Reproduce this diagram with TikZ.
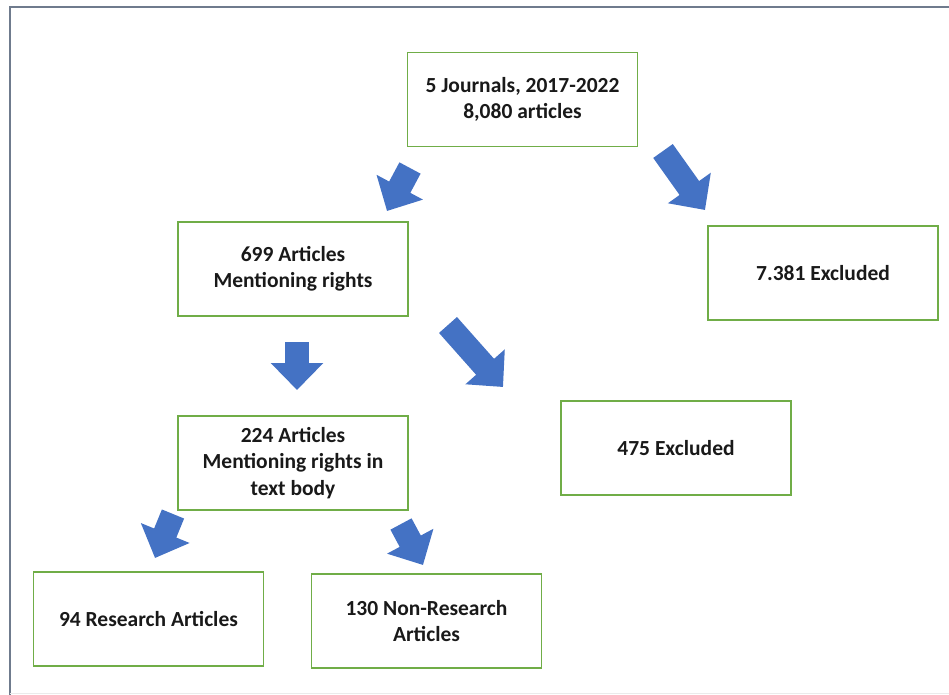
\documentclass[tikz,border=0pt]{standalone}
\usepackage{fontspec}
\setmainfont{Carlito}
\usetikzlibrary{arrows.meta}
\definecolor{boxgreen}{HTML}{70AD47}
\definecolor{arrowblue}{HTML}{4472C4}
\definecolor{framegray}{HTML}{6F7B8D}
\begin{document}
\begin{tikzpicture}[x=1pt,y=-1pt,
  box/.style={draw=boxgreen,line width=1.6pt,minimum width=230pt,minimum height=94pt,
    align=center,font=\fontsize{21.5}{26.5}\selectfont\bfseries,text=black!90},
  blockarrow/.style={arrowblue,line width=24pt,-{Triangle[width=51pt,length=27pt]}}]
  \useasboundingbox (0,0) rectangle (949,695);
  % frame
  \draw[framegray,line width=2pt] (9.5,695) -- (9.5,7.5) -- (949,7.5);
  \draw[black!8,line width=1pt] (10,693.5) -- (949,693.5);
  % boxes
  \node[box] (j) at (522.5,99.5) {5 Journals, 2017-2022\\8,080 articles};
  \node[box] (a699) at (293,269) {699 Articles\\Mentioning rights};
  \node[box] (x7381) at (823,273) {7.381 Excluded};
  \node[box] (a224) at (293,463) {224 Articles\\Mentioning rights in\\text body};
  \node[box] (x475) at (676,448) {475 Excluded};
  \node[box] (r94) at (148.5,619) {94 Research Articles};
  \node[box] (n130) at (426.5,621) {130 Non-Research\\Articles};
  % arrow ends
  \coordinate (t1) at (410,168);  \coordinate (h1) at (387,211);
  \coordinate (t2) at (663,151);  \coordinate (h2) at (705,210);
  \coordinate (t3) at (448,325);  \coordinate (h3) at (503,387);
  \coordinate (t4) at (297,342);  \coordinate (h4) at (297,390);
  \coordinate (t5) at (173,514);  \coordinate (h5) at (155,558);
  \coordinate (t6) at (401,524);  \coordinate (h6) at (423,565);
  \draw[blockarrow] (t1) -- (h1);
  \draw[blockarrow] (t2) -- (h2);
  \draw[blockarrow] (t3) -- (h3);
  \draw[blockarrow] (t4) -- (h4);
  \draw[blockarrow] (t5) -- (h5);
  \draw[blockarrow] (t6) -- (h6);
\end{tikzpicture}
\end{document}
